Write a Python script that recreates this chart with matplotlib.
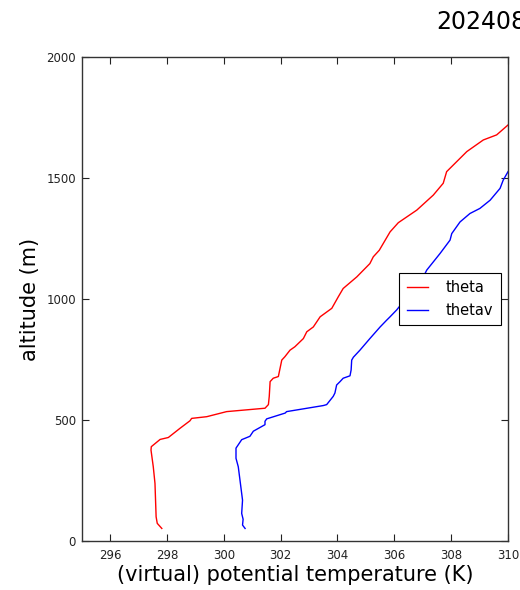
import numpy as np
import matplotlib
matplotlib.use("Agg")
import matplotlib.pyplot as plt

# potential temperature profile (K) vs altitude (m)
theta_T = [297.82, 297.66, 297.62, 297.58, 297.52, 297.44, 297.45, 297.76, 298.05,
           298.46, 298.81, 298.87, 299.40, 300.10, 301.45, 301.57, 301.60, 301.63,
           301.74, 301.92, 302.04, 302.15, 302.33, 302.50, 302.80, 302.92, 303.15,
           303.39, 303.80, 304.03, 304.20, 304.68, 305.14, 305.26, 305.47, 305.85,
           306.14, 306.79, 307.37, 307.72, 307.84, 308.55, 309.13, 309.60, 310.00]
theta_z = [52, 73, 100, 238, 307, 376, 390, 420, 428,
           466, 497, 507, 514, 535, 549, 564, 598, 659,
           673, 680, 748, 762, 789, 803, 837, 865, 885,
           927, 962, 1010, 1044, 1092, 1147, 1175, 1202, 1278,
           1316, 1368, 1430, 1479, 1527, 1610, 1658, 1679, 1720]

# virtual potential temperature
thetav_T = [300.75, 300.66, 300.68, 300.63, 300.66, 300.57, 300.51, 300.43, 300.43, 300.63,
            300.92, 301.04, 301.45, 301.45, 301.51, 302.16, 302.21, 303.50, 303.62,
            303.85, 303.91, 303.97, 304.09, 304.20, 304.44, 304.48, 304.50, 304.56,
            304.79, 305.14, 305.50, 305.73, 305.85, 306.08, 307.02, 307.14, 307.61,
            307.96, 308.02, 308.31, 308.66, 309.01, 309.37, 309.72, 309.83, 310.00]
thetav_z = [52, 66, 90, 114, 169, 252, 307, 342, 384, 419,
            433, 454, 481, 495, 505, 529, 535, 560, 564,
            598, 612, 645, 659, 673, 683, 707, 748, 760,
            789, 837, 885, 913, 927, 955, 1092, 1120, 1189,
            1244, 1271, 1319, 1354, 1375, 1409, 1458, 1492, 1527]

title = "20240808"

fig = plt.figure(figsize=(5.2, 5.9), dpi=100)
ax = fig.add_axes([0.157, 0.083, 0.82, 0.82])

ax.plot(theta_T, theta_z, c='r', lw=1.0, label='theta')
ax.plot(thetav_T, thetav_z, c='b', lw=1.0, label='thetav')

ax.set_xlim(295, 310)
ax.set_ylim(0, 2000)
ax.set_xticks(np.arange(296, 311, 2))
ax.set_yticks(np.arange(0, 2001, 500))
ax.tick_params(direction='in', top=True, right=True, labelsize=8.5,
               length=5, width=0.8, pad=4, colors='#222222')
ax.tick_params(axis='x', pad=6)
for s in ax.spines.values():
    s.set_linewidth(1.0)
    s.set_color('#333333')

ax.set_xlabel("(virtual) potential temperature (K)", fontsize=15, labelpad=2)
ax.set_ylabel("altitude (m)", fontsize=15, labelpad=5)

leg = ax.legend(loc='center right', fontsize=10.5, fancybox=False,
                framealpha=1, edgecolor='black', handlelength=1.5,
                handletextpad=1.2, borderpad=0.5, borderaxespad=0.5)
leg.get_frame().set_linewidth(0.8)

fig.text(436 / 520, 1 - 29 / 590, title, fontsize=17, ha='left', va='baseline')

fig.savefig('out.png', dpi=100)
plt.close()
